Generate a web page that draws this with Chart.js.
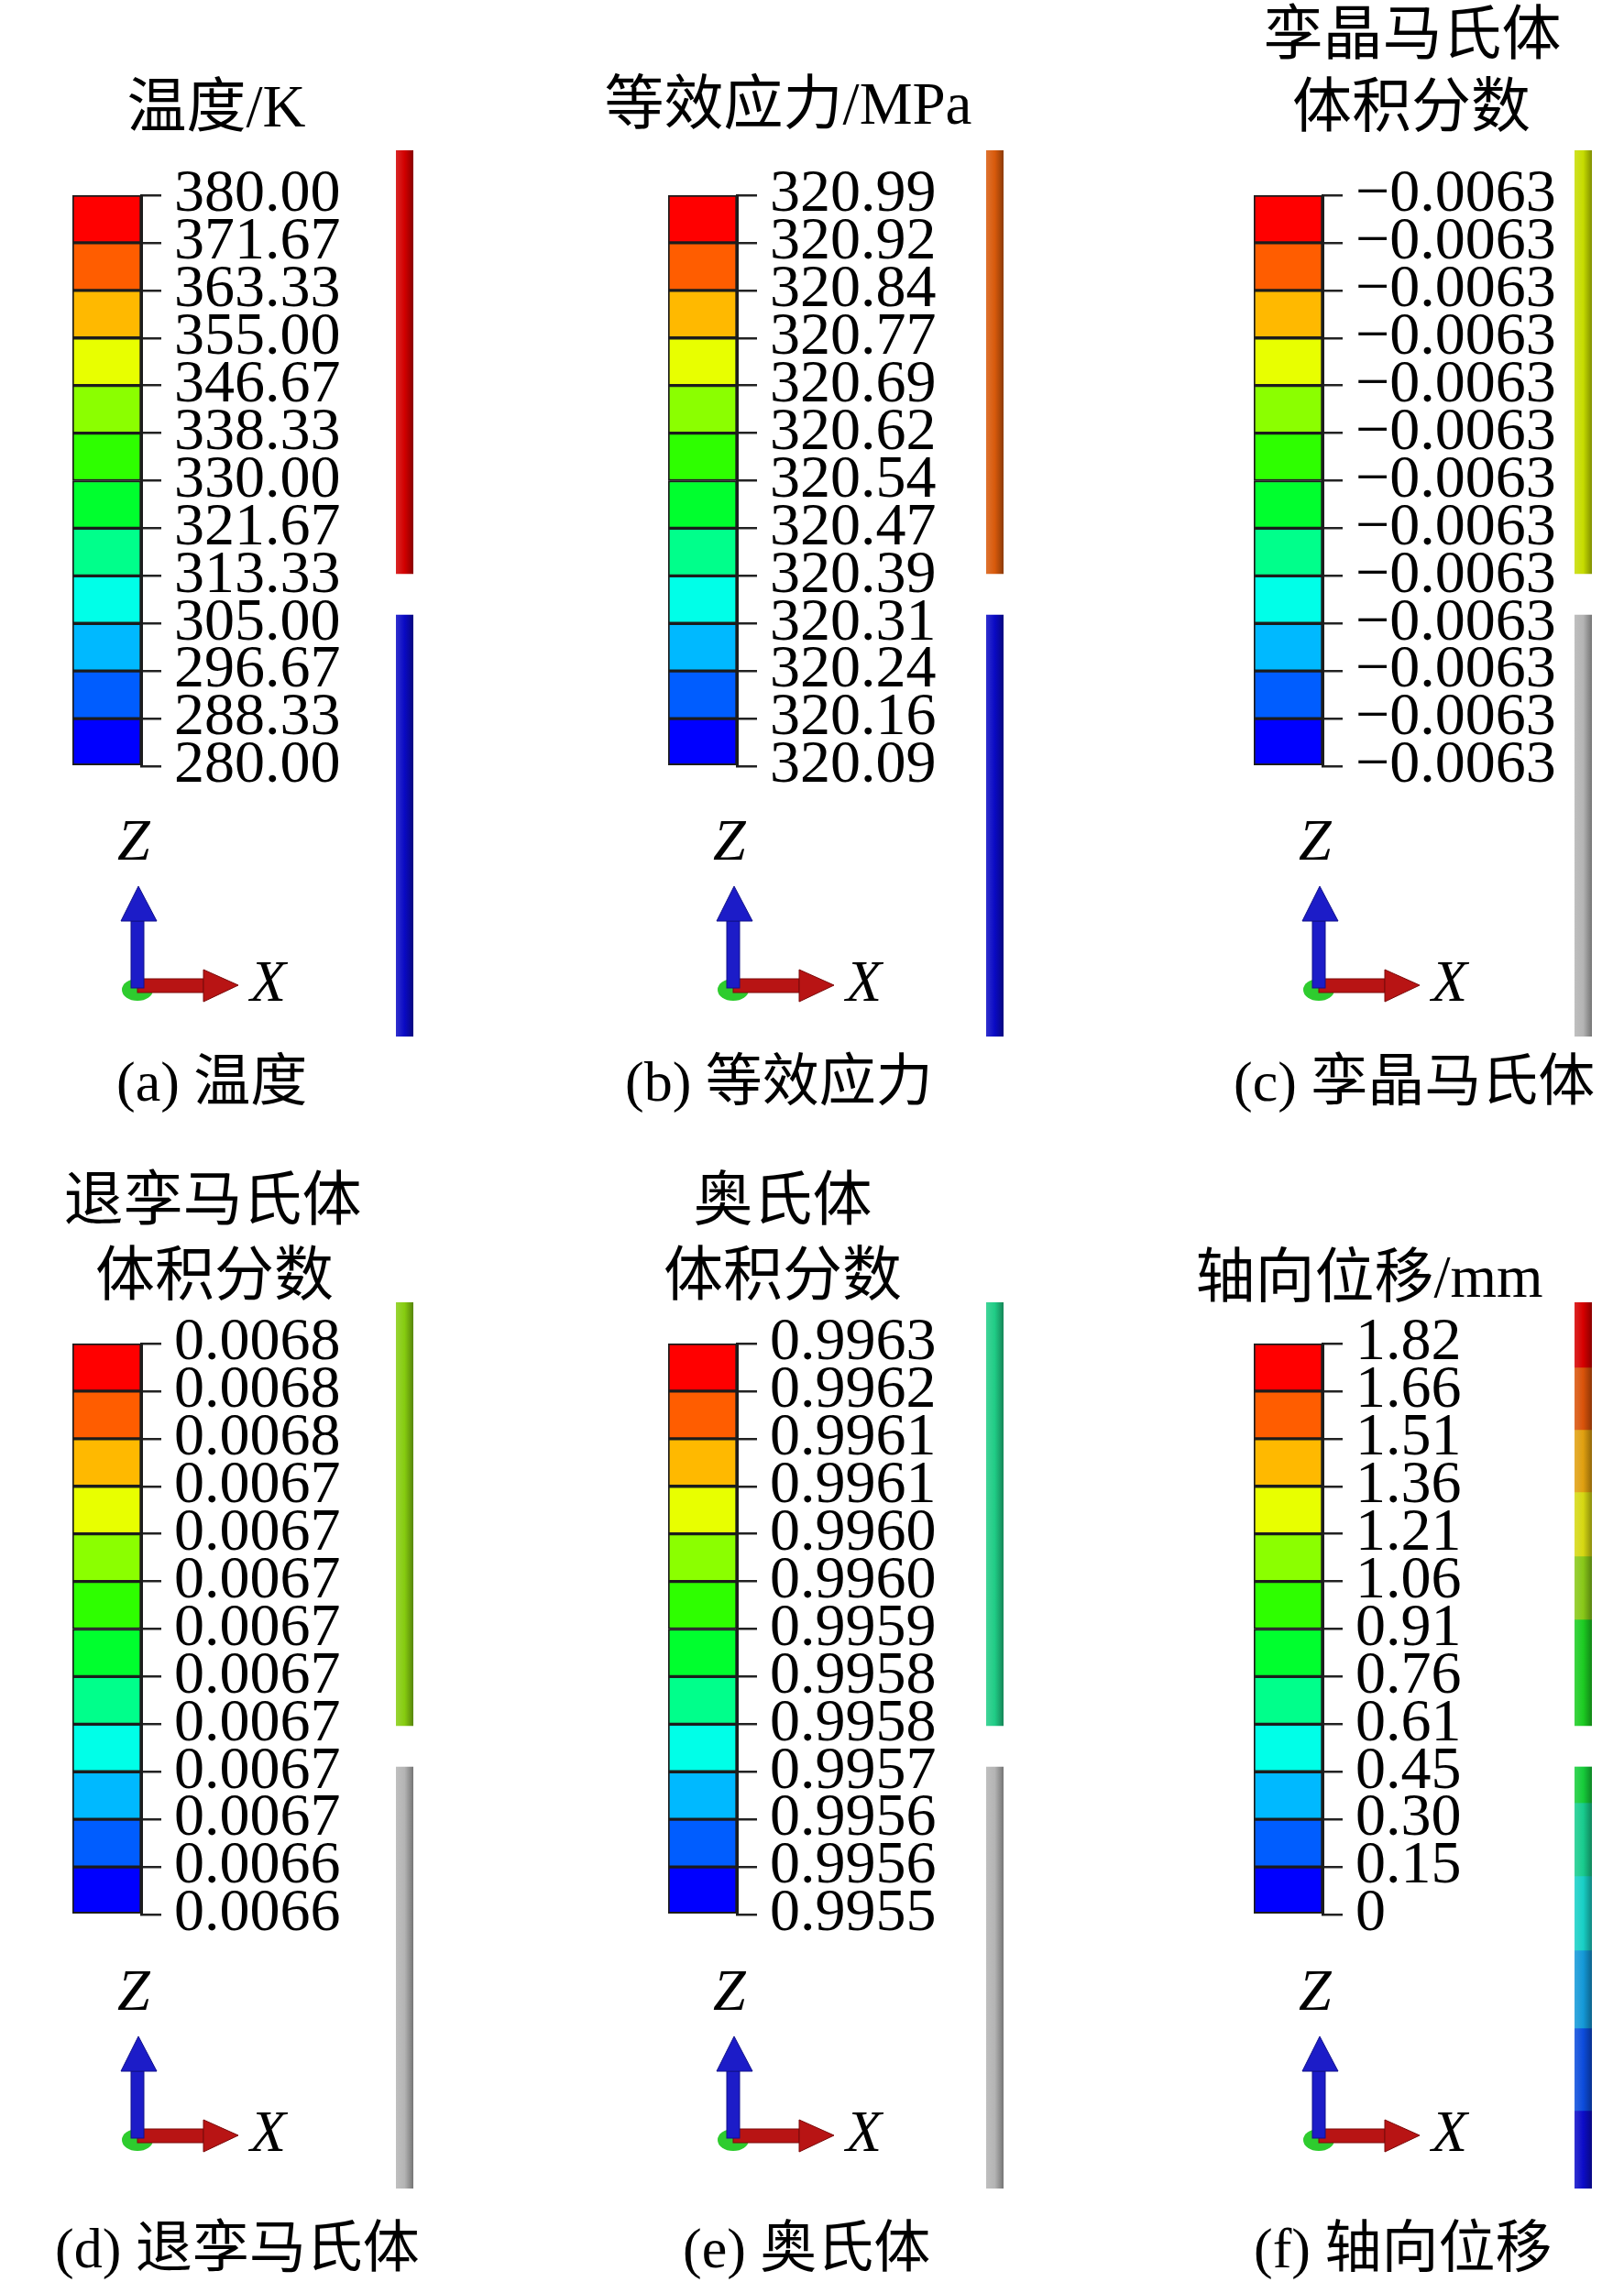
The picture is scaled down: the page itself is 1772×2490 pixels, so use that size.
<!DOCTYPE html>
<html lang="zh">
<head>
<meta charset="utf-8">
<title>温度、应力、相体积分数与轴向位移云图</title>
<script src="https://cdn.jsdelivr.net/npm/chart.js@4.4.1/dist/chart.umd.min.js"></script>
<style>
  html, body { margin: 0; padding: 0; background: #fff; }
  #page { position: relative; width: 1772px; height: 2490px; overflow: hidden; background: #fff; }
  #page canvas { position: absolute; }
  #triads { position: absolute; left: 0; top: 0; }
  .txt { position: absolute; white-space: nowrap; color: #000;
         font-family: "Liberation Serif", "Noto Sans CJK SC", serif; }
  .title { font-size: 65px; line-height: 65px; transform: translateX(-50%); }
  .caption { font-size: 62px; line-height: 62px; }
</style>
</head>
<body>
<div id="page">
  <svg id="triads" width="1772" height="2490" xmlns="http://www.w3.org/2000/svg"></svg>
</div>
<script>
// ---------- Legend data (top to bottom, 13 levels / 12 bins) ---------- //
const binColors = ["#ff0000", "#ff5d00", "#ffb900", "#e8ff00", "#8bff00", "#2eff00",
                   "#00ff2e", "#00ff8b", "#00ffe8", "#00b9ff", "#005dff", "#0000ff"];

const tempLabels = ["380.00", "371.67", "363.33", "355.00", "346.67", "338.33", "330.00",
                    "321.67", "313.33", "305.00", "296.67", "288.33", "280.00"];
const stressLabels = ["320.99", "320.92", "320.84", "320.77", "320.69", "320.62", "320.54",
                      "320.47", "320.39", "320.31", "320.24", "320.16", "320.09"];
const twinLabels = ["−0.0063", "−0.0063", "−0.0063", "−0.0063", "−0.0063", "−0.0063", "−0.0063",
                    "−0.0063", "−0.0063", "−0.0063", "−0.0063", "−0.0063", "−0.0063"];
const detwinLabels = ["0.0068", "0.0068", "0.0068", "0.0067", "0.0067", "0.0067", "0.0067",
                      "0.0067", "0.0067", "0.0067", "0.0067", "0.0066", "0.0066"];
const austLabels = ["0.9963", "0.9962", "0.9961", "0.9961", "0.9960", "0.9960", "0.9959",
                    "0.9958", "0.9958", "0.9957", "0.9956", "0.9956", "0.9955"];
const dispLabels = ["1.82", "1.66", "1.51", "1.36", "1.21", "1.06", "0.91",
                    "0.76", "0.61", "0.45", "0.30", "0.15", "0"];

// ---------- Rod contour data (distance from rod top, rod length 96.7) ---------- //
const ROD_LEN = 96.7;
const twoPartSegments = [[0, 46.2], [50.7, 96.7]];
const tempRodColors = ["#d20000", "#0a0ac4"];
const stressRodColors = ["#d85a0c", "#0a0ac4"];
const twinRodColors = ["#c6dc00", "#b4b4b4"];
const detwinRodColors = ["#86cc10", "#b4b4b4"];
const austRodColors = ["#20cc86", "#b4b4b4"];
const dispRodSegments = [[0, 7.1], [7.1, 13.9], [13.9, 20.7], [20.7, 27.7], [27.7, 34.6], [34.6, 46.2],
                         [50.7, 54.6], [54.6, 62.6], [62.6, 70.7], [70.7, 79.2], [79.2, 88.2], [88.2, 96.7]];
const dispRodColors = ["#d60000", "#d9530a", "#e0a010", "#d6d812", "#88c818", "#1ccc22",
                       "#16cc3a", "#18cc8e", "#18d0c6", "#1499d8", "#0c4cdc", "#0c0cc8"];

// ---------- Layout ---------- //
const CB_W = 75, CB_H = 623;       // colour bar box
const ROD_W = 19, ROD_H = 967;     // rod on screen
const colX = [79, 729, 1368];      // colour bar left edge per column
const rodX = [432, 1076, 1718];
const cbTop = [213, 1466];
const rodTop = [164, 1421];
const triadY = [1076, 2331];

const panels = [
  { labels: tempLabels, segs: twoPartSegments, colors: tempRodColors, col: 0, row: 0,
    title: [["温度/K", 236, 113]], caption: ["(a) 温度", 127, 1177] },
  { labels: stressLabels, segs: twoPartSegments, colors: stressRodColors, col: 1, row: 0,
    title: [["等效应力/MPa", 860, 110]], caption: ["(b) 等效应力", 682, 1177] },
  { labels: twinLabels, segs: twoPartSegments, colors: twinRodColors, col: 2, row: 0,
    title: [["孪晶马氏体", 1541, 34], ["体积分数", 1540, 113]], caption: ["(c) 孪晶马氏体", 1346, 1177] },
  { labels: detwinLabels, segs: twoPartSegments, colors: detwinRodColors, col: 0, row: 1,
    title: [["退孪马氏体", 232, 1306], ["体积分数", 234, 1388]], caption: ["(d) 退孪马氏体", 60, 2450] },
  { labels: austLabels, segs: twoPartSegments, colors: austRodColors, col: 1, row: 1,
    title: [["奥氏体", 854, 1306], ["体积分数", 854, 1388]], caption: ["(e) 奥氏体", 745, 2450] },
  { labels: dispLabels, segs: dispRodSegments, colors: dispRodColors, col: 2, row: 1,
    title: [["轴向位移/mm", 1494, 1390]], caption: ["(f) 轴向位移", 1368, 2450] }
];

const page = document.getElementById("page");

function addCanvas(x, y, w, h) {
  const cv = document.createElement("canvas");
  cv.width = w; cv.height = h;
  cv.style.left = x + "px"; cv.style.top = y + "px";
  cv.style.width = w + "px"; cv.style.height = h + "px";
  page.appendChild(cv);
  return cv;
}

function addText(cls, text, x, y) {
  const d = document.createElement("div");
  d.className = "txt " + cls;
  d.textContent = text;
  d.style.left = x + "px";
  d.style.top = y + "px";
  page.appendChild(d);
}

// lighten (t>0) or darken (t<0) a hex colour
function shade(hex, t) {
  const n = parseInt(hex.slice(1), 16);
  const f = c => Math.round(t < 0 ? c * (1 + t) : c + (255 - c) * t);
  return `rgb(${f(n >> 16)},${f((n >> 8) & 255)},${f(n & 255)})`;
}

// cylinder-like horizontal shading for the rod
function rodFill(color) {
  return ctx => {
    const area = ctx.chart.chartArea;
    if (!area) return color;
    const g = ctx.chart.ctx.createLinearGradient(area.left, 0, area.right, 0);
    g.addColorStop(0, shade(color, 0.15));
    g.addColorStop(0.5, color);
    g.addColorStop(1, shade(color, -0.35));
    return g;
  };
}

// ---------- Colour bar legend ---------- //
function makeColorbar(p) {
  // vertical padding must exceed half a label line + tick padding, else Chart.js shrinks the bar
  const pad = { left: 4, top: 60, right: 0, bottom: 60 };
  const axisW = 340;
  const x = colX[p.col], y = cbTop[p.row];
  const cv = addCanvas(x - pad.left, y - pad.top, pad.left + CB_W + axisW, pad.top + CB_H + pad.bottom);
  const bins = binColors.slice().reverse(); // bottom -> top

  new Chart(cv, {
    type: "bar",
    data: {
      labels: [""],
      datasets: bins.map((c, i) => ({
        data: [[i, i + 1]],
        backgroundColor: c,
        borderColor: "#1c1c1c",
        borderWidth: 2,
        borderSkipped: false,
        grouped: false,
        barPercentage: 1,
        categoryPercentage: 1
      }))
    },
    options: {
      responsive: false,
      animation: false,
      devicePixelRatio: 1,
      layout: { padding: pad },
      plugins: { legend: { display: false }, tooltip: { enabled: false } },
      scales: {
        x: { display: false },
        y: {
          position: "right",
          min: 0,
          max: bins.length,
          afterBuildTicks: s => { s.ticks = p.labels.map((_, i) => ({ value: i })); },
          afterFit: s => { s.width = axisW; },
          grid: { drawOnChartArea: false, drawTicks: true, tickLength: 22, color: "#222", lineWidth: 2.5 },
          border: { display: true, color: "#1c1c1c", width: 3 },
          ticks: {
            autoSkip: false,
            padding: 14,
            color: "#000",
            font: { family: "Liberation Serif", size: 66 },
            callback: v => p.labels[p.labels.length - 1 - v]
          }
        }
      }
    }
  });
}

// ---------- Rod contour ---------- //
function makeRod(p) {
  const pad = 2;
  const cv = addCanvas(rodX[p.col] - pad, rodTop[p.row] - pad, ROD_W + 2 * pad, ROD_H + 2 * pad);
  new Chart(cv, {
    type: "bar",
    data: {
      labels: [""],
      datasets: p.segs.map((s, i) => ({
        data: [s],
        backgroundColor: rodFill(p.colors[i]),
        borderWidth: 0,
        grouped: false,
        barPercentage: 1,
        categoryPercentage: 1
      }))
    },
    options: {
      responsive: false,
      animation: false,
      devicePixelRatio: 1,
      layout: { padding: pad },
      plugins: { legend: { display: false }, tooltip: { enabled: false } },
      scales: {
        x: { display: false },
        y: { display: false, min: 0, max: ROD_LEN, reverse: true }
      }
    }
  });
}

// ---------- Z-X axis triad ---------- //
function triad(ox, oy) {
  return `
  <ellipse cx="${ox}" cy="${oy + 4}" rx="17" ry="12" fill="#2ecc2e"/>
  <rect x="${ox}" y="${oy - 8}" width="72" height="15" fill="#b81414" stroke="#7a0a0a" stroke-width="1"/>
  <polygon points="${ox + 72},${oy - 18} ${ox + 72},${oy + 17} ${ox + 110},${oy - 1}" fill="#b81414" stroke="#7a0a0a" stroke-width="1"/>
  <rect x="${ox - 7}" y="${oy - 71}" width="14" height="73" fill="#1c1cc8" stroke="#10108a" stroke-width="1"/>
  <polygon points="${ox - 18},${oy - 71} ${ox + 21},${oy - 71} ${ox + 1},${oy - 109}" fill="#1c1cc8" stroke="#10108a" stroke-width="1"/>
  <text x="${ox - 22}" y="${oy - 138}" font-family="Liberation Serif" font-style="italic" font-size="64">Z</text>
  <text x="${ox + 123}" y="${oy + 16}" font-family="Liberation Serif" font-style="italic" font-size="64">X</text>`;
}

let svg = "";
panels.forEach(p => {
  makeColorbar(p);
  makeRod(p);
  svg += triad(colX[p.col] + 71, triadY[p.row]);
  p.title.forEach(([t, cx, cy]) => addText("title", t, cx, cy - 29));
  const [c, lx, cy] = p.caption;
  addText("caption", c, lx, cy - 28);
});
document.getElementById("triads").innerHTML = svg;
</script>
</body>
</html>
